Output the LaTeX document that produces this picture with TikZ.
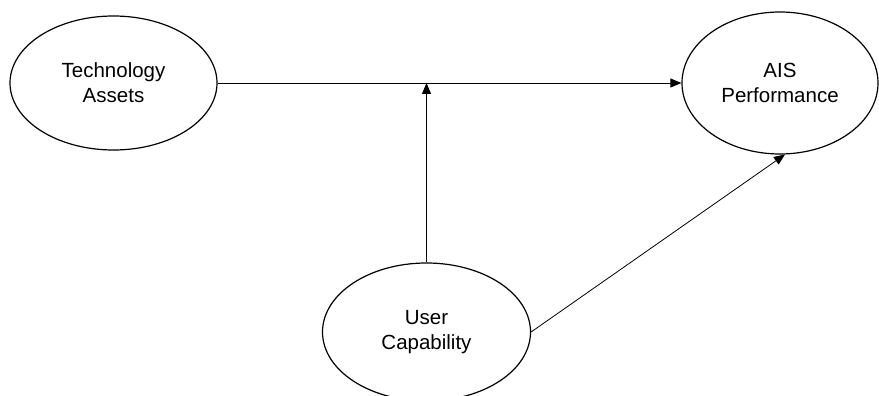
\documentclass[tikz,border=0pt]{standalone}
\usepackage{fontspec}
\setmainfont{Liberation Sans}
\usetikzlibrary{shapes.geometric,arrows.meta}

\tikzset{
  construct/.style={ellipse, draw=black, line width=1.2pt, inner sep=0,
                    align=center, font=\fontsize{20.5}{25}\selectfont},
  path arrow/.style={-{Triangle[length=11pt,width=9pt]}, black, line width=0.8pt},
}

\begin{document}
\begin{tikzpicture}[x=1pt, y=-1pt]
        % canvas in px, y grows downward
        \useasboundingbox (0,0) rectangle (879,396);

        % ---- constructs ----
        \node[construct, minimum width=207pt, minimum height=134pt] (tech) at (113.5, 83)
          {Technology\\Assets};
        \node[construct, minimum width=196pt, minimum height=142pt] (ais)  at (780, 83)
          {AIS\\Performance};
        \node[construct, minimum width=208pt, minimum height=138pt] (user) at (426.5, 332)
          {User\\Capability};

        % ---- paths ----
        \draw[path arrow] (tech.east) -- (ais.west);
        \coordinate (mod) at (user.north |- ais.west);
        \draw[path arrow] (user.north) -- (mod);
        \draw[path arrow] (user.east) -- (ais.-86);
      \end{tikzpicture}
\end{document}
